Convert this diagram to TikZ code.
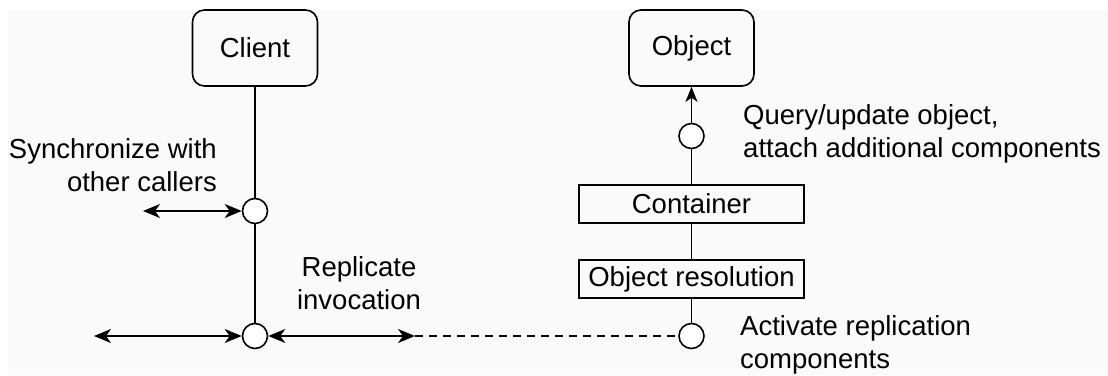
\documentclass[tikz,border=0pt]{standalone}
\usepackage{fontspec}
\setmainfont{Liberation Sans}
\usetikzlibrary{arrows.meta}
\definecolor{bgc}{RGB}{250,250,250}
\begin{document}
\begin{tikzpicture}[x=1pt,y=-1pt,
  every node/.style={font=\fontsize{27.5}{33}\selectfont},
  rbox/.style={draw,line width=1.6pt,rounded corners=12pt,minimum width=125pt,minimum height=76pt,inner sep=0pt},
  sbox/.style={draw,line width=1.6pt,minimum width=225pt,minimum height=38pt,inner sep=0pt},
  port/.style={draw,circle,line width=1.6pt,minimum size=25pt,inner sep=0pt,fill=white},
  lbl/.style={inner sep=0pt},
  conn/.style={line width=1.6pt},
  darr/.style={line width=1.6pt,{Stealth[length=17pt,width=14pt,inset=5pt]}-{Stealth[length=17pt,width=14pt,inset=5pt]}},
  sarr/.style={line width=1.6pt,-{Stealth[length=15pt,width=12pt,inset=4pt]}},
  dline/.style={line width=1.3pt,dash pattern=on 8pt off 6pt}]
\useasboundingbox (0,0) rectangle (1108,375);
\fill[bgc] (8,10) rectangle (1108,375);
% nodes
\node[rbox] (client) at (255,48) {Client};
\node[rbox] (object) at (691.5,48) {Object};
\node[port] (c1) at (255,211) {};
\node[port] (c2) at (255,336) {};
\node[port] (oc1) at (691.5,136) {};
\node[sbox] (cont) at (691.5,204) {Container};
\node[sbox] (ores) at (691.5,279) {Object resolution};
\node[port] (oc2) at (691.5,336) {};
\coordinate (sL) at (143,211);
\coordinate (bL) at (94,336);
\coordinate (rR) at (415,336);
% labels
\node[lbl,align=right,anchor=east] (tsync) at (217,165) {Synchronize with\\other callers};
\node[lbl,align=center] (trep) at (359,283) {Replicate\\invocation};
\node[lbl,align=left,anchor=west] (tquery) at (743,134) {Query/update object,\\attach additional components};
\node[lbl,align=left,anchor=west] (tact) at (740,345) {Activate replication\\components};
% connectors
\draw[conn] (client) -- (c1);
\draw[conn] (c1) -- (c2);
\draw[darr] (sL) -- (c1);
\draw[darr] (bL) -- (c2);
\draw[darr] (c2) -- (rR);
\draw[dline] (rR) -- (oc2);
\draw[sarr] (oc1) -- (object);
\draw[conn] (oc1) -- (cont);
\draw[conn] (cont) -- (ores);
\draw[conn] (ores) -- (oc2);
\end{tikzpicture}
\end{document}
